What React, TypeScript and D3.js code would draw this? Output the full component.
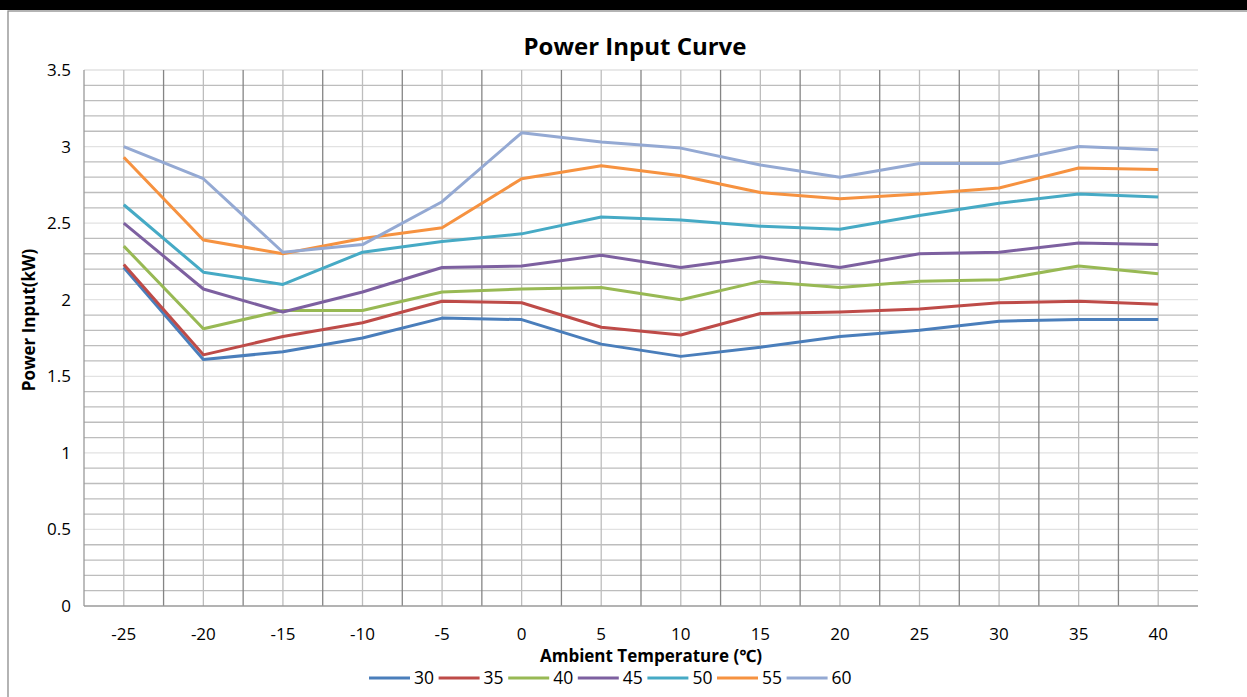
import React, { useEffect } from "react";
import * as d3 from "d3";

// ambient temperature (°C) on the category axis
const temps = [-25, -20, -15, -10, -5, 0, 5, 10, 15, 20, 25, 30, 35, 40];

// power input (kW) per water temperature series
const s30 = [2.21, 1.61, 1.66, 1.75, 1.88, 1.87, 1.71, 1.63, 1.69, 1.76, 1.8, 1.86, 1.87, 1.87];
const s35 = [2.23, 1.64, 1.76, 1.85, 1.99, 1.98, 1.82, 1.77, 1.91, 1.92, 1.94, 1.98, 1.99, 1.97];
const s40 = [2.35, 1.81, 1.93, 1.93, 2.05, 2.07, 2.08, 2.0, 2.12, 2.08, 2.12, 2.13, 2.22, 2.17];
const s45 = [2.5, 2.07, 1.92, 2.05, 2.21, 2.22, 2.29, 2.21, 2.28, 2.21, 2.3, 2.31, 2.37, 2.36];
const s50 = [2.62, 2.18, 2.1, 2.31, 2.38, 2.43, 2.54, 2.52, 2.48, 2.46, 2.55, 2.63, 2.69, 2.67];
const s55 = [2.93, 2.39, 2.3, 2.4, 2.47, 2.79, 2.875, 2.81, 2.7, 2.66, 2.69, 2.73, 2.86, 2.85];
const s60 = [3.0, 2.79, 2.31, 2.36, 2.64, 3.09, 3.03, 2.99, 2.88, 2.8, 2.89, 2.89, 3.0, 2.98];

const seriesNames = ["30", "35", "40", "45", "50", "55", "60"];
const seriesValues = [s30, s35, s40, s45, s50, s55, s60];
const seriesColors = ["#4a7ebb", "#be4b48", "#98b954", "#7d60a0", "#46aac5", "#f69240", "#94a9d3"];

const yTicks = [0, 0.5, 1, 1.5, 2, 2.5, 3, 3.5];

const W = 1247;
const H = 697;
const FONT = "'Open Sans', 'Noto Sans', sans-serif";

export default function App() {
  useEffect(() => {
    document.body.style.margin = "0";
  }, []);

  const x = d3
    .scaleBand<string>()
    .domain(temps.map(String))
    .range([84, 1198])
    .padding(0);
  const y = d3.scaleLinear().domain([0, 3.5]).range([606, 70]);

  const cx = (t: number) => (x(String(t)) || 0) + x.bandwidth() / 2;
  const minor = y.ticks(35).filter((v) => Math.round(v * 10) % 5 !== 0);

  const line = d3
    .line<number>()
    .x((_d, i) => cx(temps[i]))
    .y((d) => y(d));

  const [x0, x1] = x.range();

  return (
    <svg width={W} height={H} style={{ display: "block", background: "#fff" }}>
      <rect x={0} y={0} width={W} height={10} fill="#000" />
      <rect x={8} y={11} width={W} height={H} fill="#fff" stroke="#8c8c8c" strokeWidth={1.3} />

      <text x={635} y={55} textAnchor="middle" fontFamily={FONT} fontWeight="bold" fontSize={24} fill="#000">
        Power Input Curve
      </text>

      {/* minor horizontal grid */}
      {minor.map((v) => (
        <line key={"m" + v} x1={x0} x2={x1} y1={y(v)} y2={y(v)} stroke="#bdbdbd" strokeWidth={1.3} />
      ))}
      {/* major horizontal grid */}
      {yTicks.slice(1).map((v) => (
        <line key={"M" + v} x1={x0} x2={x1} y1={y(v)} y2={y(v)} stroke="#e2e2e2" strokeWidth={1.3} />
      ))}

      {/* vertical grid: light at categories, dark at boundaries */}
      {temps.map((t) => (
        <line key={"c" + t} x1={cx(t)} x2={cx(t)} y1={y(3.5)} y2={y(0)} stroke="#bdbdbd" strokeWidth={1.3} />
      ))}
      {temps.slice(1).map((t) => (
        <line
          key={"b" + t}
          x1={x(String(t)) || 0}
          x2={x(String(t)) || 0}
          y1={y(3.5)}
          y2={y(0)}
          stroke="#858585"
          strokeWidth={1.3}
        />
      ))}

      {/* axes */}
      <line x1={x0} x2={x0} y1={y(3.5)} y2={y(0)} stroke="#9a9a9a" strokeWidth={1.3} />
      <line x1={x0} x2={x1} y1={y(0)} y2={y(0)} stroke="#9a9a9a" strokeWidth={1.3} />

      {yTicks.map((v) => (
        <text key={"yt" + v} x={71} y={y(v) + 6} textAnchor="end" fontFamily={FONT} fontSize={17} fill="#000">
          {String(v)}
        </text>
      ))}
      {temps.map((t) => (
        <text key={"xt" + t} x={cx(t)} y={640} textAnchor="middle" fontFamily={FONT} fontSize={17} fill="#000">
          {String(t)}
        </text>
      ))}

      <text x={651} y={662} textAnchor="middle" fontFamily={FONT} fontWeight="bold" fontSize={17} fill="#000">
        Ambient Temperature (℃)
      </text>
      <text
        transform={`translate(35,${320}) rotate(-90)`}
        textAnchor="middle"
        fontFamily={FONT}
        fontWeight="bold"
        fontSize={17}
        fill="#000"
      >
        Power Input(kW)
      </text>

      {/* series */}
      {seriesValues.map((vals, i) => (
        <path
          key={"s" + i}
          d={line(vals) || ""}
          fill="none"
          stroke={seriesColors[i]}
          strokeWidth={3}
          strokeLinejoin="round"
        />
      ))}

      {/* legend */}
      {seriesNames.map((n, i) => {
        const lx = 369 + i * 69.6;
        return (
          <g key={"lg" + n}>
            <line x1={lx} x2={lx + 41} y1={678} y2={678} stroke={seriesColors[i]} strokeWidth={3} />
            <text x={lx + 45} y={684} fontFamily={FONT} fontSize={17.5} fill="#000">
              {n}
            </text>
          </g>
        );
      })}
    </svg>
  );
}
